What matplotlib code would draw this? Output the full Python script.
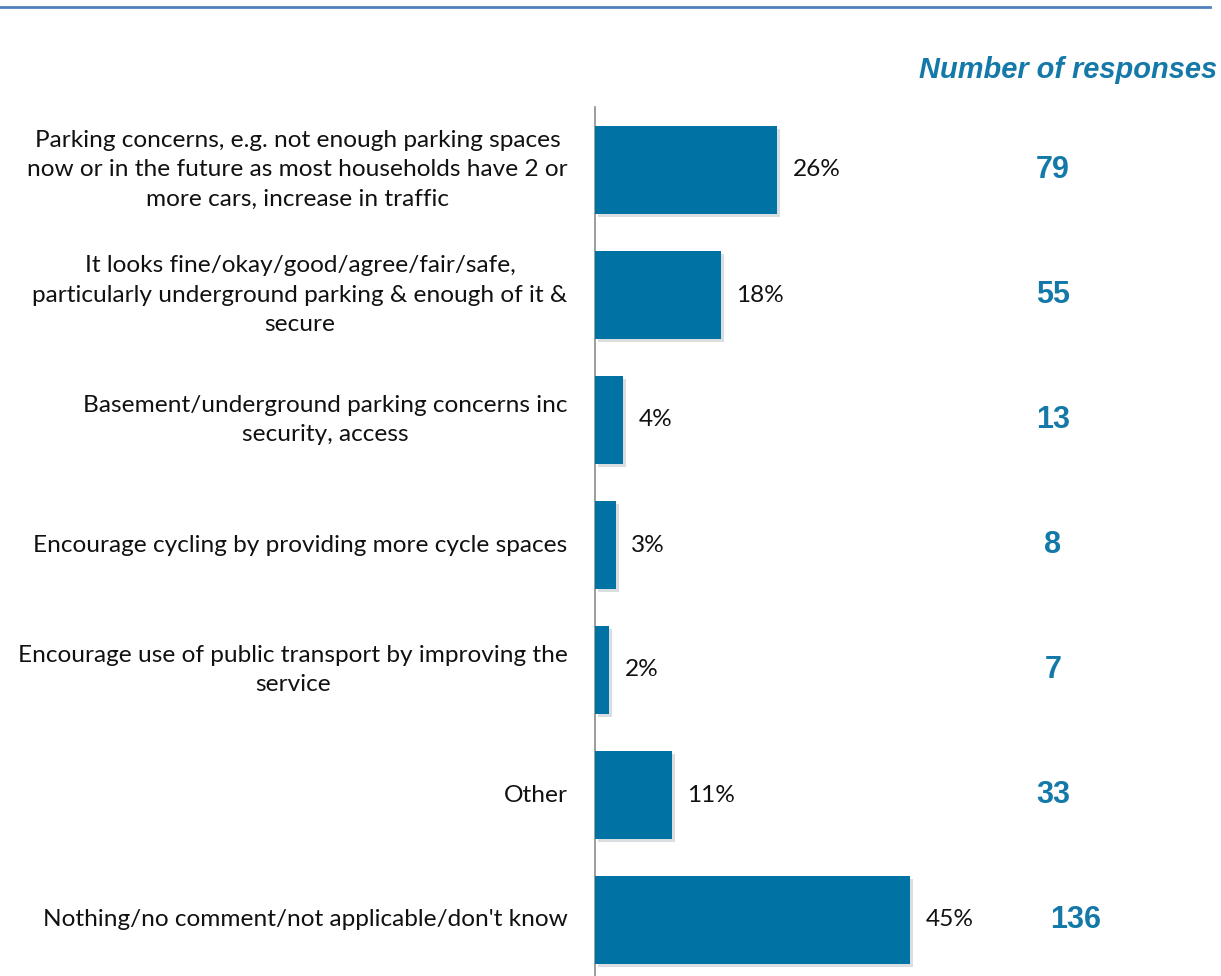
import matplotlib
matplotlib.use('Agg')
import matplotlib.pyplot as plt
import matplotlib.patheffects as pe

categories = [
    'Parking concerns, e.g. not enough parking spaces\nnow or in the future as most households have 2 or\nmore cars, increase in traffic',
    'It looks fine/okay/good/agree/fair/safe,\nparticularly underground parking & enough of it &\nsecure',
    'Basement/underground parking concerns inc\nsecurity, access',
    'Encourage cycling by providing more cycle spaces',
    'Encourage use of public transport by improving the\nservice',
    'Other',
    "Nothing/no comment/not applicable/don't know",
]
percents = [26, 18, 4, 3, 2, 11, 45]
counts = [79, 55, 13, 8, 7, 33, 136]

bar_color = '#0072a3'
count_color = '#1479a8'

fig = plt.figure(figsize=(12.21, 9.76), dpi=100)

# thin rule across the top
fig.add_artist(plt.Line2D([0.0, 0.991], [0.9925, 0.9925], color='#4f81bd', lw=2))

ax = fig.add_axes([595 / 1221, 0.0, 1 - 595 / 1221, 1 - 107 / 976])
y = list(range(len(categories)))
bars = ax.barh(y, percents, height=0.7, color=bar_color, zorder=3)
for b in bars:
    b.set_path_effects([pe.SimplePatchShadow(offset=(2, -2), shadow_rgbFace='#b0b6bb', alpha=0.45), pe.Normal()])

ax.set_ylim(6.448, -0.504)
ax.set_xlim(0, 626 / 7.0)

for spine in ['top', 'right', 'bottom']:
    ax.spines[spine].set_visible(False)
ax.spines['left'].set_color('#8c8c8c')
ax.spines['left'].set_linewidth(1.2)
ax.set_xticks([])
ax.set_yticks([])

for i, (p, c) in enumerate(zip(percents, counts)):
    ax.text(p + 2.2, i, f'{p}%', va='center', ha='left', fontsize=17.6,
            family='Lato', color='#111111')
    cx = 68.6 if c >= 100 else 65.4
    ax.text(cx, i, str(c), va='center', ha='center', fontsize=22,
            family='Liberation Sans', fontweight='bold', color=count_color)
    ax.text(-3.9, i, categories[i], va='center', ha='right', multialignment='center',
            fontsize=17.6, family='Lato', color='#111111', linespacing=1.5)

fig.text(1217 / 1221, 1 - 70 / 976, 'Number of responses', ha='right', va='center',
         fontsize=20.9, family='Liberation Sans', fontweight='bold', style='italic',
         color=count_color)

fig.savefig('out.png', dpi=100)
